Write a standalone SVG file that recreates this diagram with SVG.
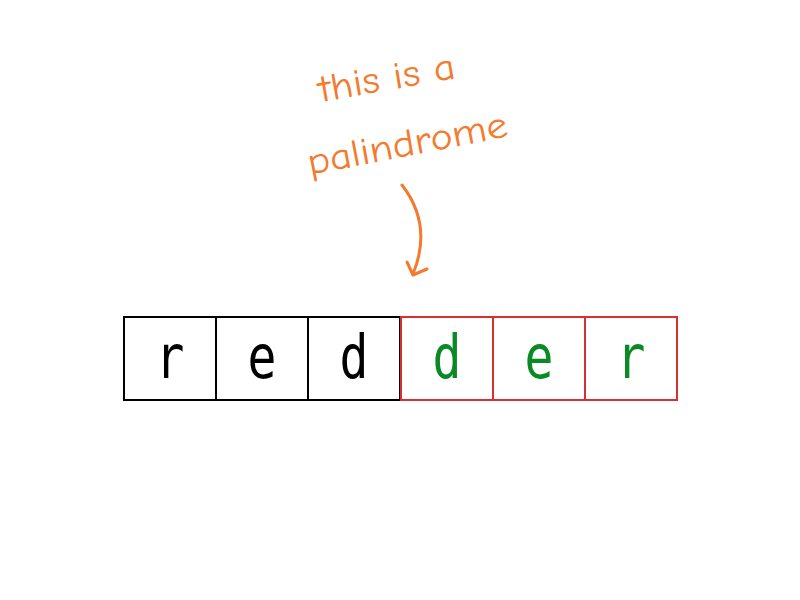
<svg xmlns="http://www.w3.org/2000/svg" width="800" height="600" viewBox="0 0 800 600">
<style>
.cell{fill:#fff;stroke-width:2}
.blk{stroke:#000}
.red{stroke:#d8302f}
.ch{font-family:"DejaVu Sans Mono",monospace;font-size:60px;text-anchor:middle}
.note{font-family:"Comic Neue","Open Sans",sans-serif;font-size:38px;fill:#f47a2e}
</style>
<rect width="800" height="600" fill="#fff"/>
<g id="note">
<text class="note" transform="translate(321,102) rotate(-10)" textLength="138" lengthAdjust="spacingAndGlyphs">this is a</text>
<text class="note" transform="translate(310,175) rotate(-11)" textLength="203" lengthAdjust="spacingAndGlyphs">palindrome</text>
</g>
<g id="connectors" fill="none" stroke="#f47a2e" stroke-width="3" stroke-linecap="round" stroke-linejoin="round">
<path d="M402,185 Q433,225 413,274"/>
<path d="M407,262 L413,275 L427,269"/>
</g>
<g id="c1"><rect class="cell blk" x="124" y="317" width="92" height="83"/><text class="ch" transform="translate(170,378) scale(0.8,1)">r</text></g>
<g id="c2"><rect class="cell blk" x="216" y="317" width="92" height="83"/><text class="ch" transform="translate(262,378) scale(0.8,1)">e</text></g>
<g id="c3"><rect class="cell blk" x="308" y="317" width="92" height="83"/><text class="ch" transform="translate(354,378) scale(0.8,1)">d</text></g>
<g id="c4"><rect class="cell red" x="401" y="317" width="92" height="83"/><text class="ch" fill="#0a8a24" transform="translate(447,378) scale(0.8,1)">d</text></g>
<g id="c5"><rect class="cell red" x="493" y="317" width="92" height="83"/><text class="ch" fill="#0a8a24" transform="translate(539,378) scale(0.8,1)">e</text></g>
<g id="c6"><rect class="cell red" x="585" y="317" width="92" height="83"/><text class="ch" fill="#0a8a24" transform="translate(631,378) scale(0.8,1)">r</text></g>
</svg>
